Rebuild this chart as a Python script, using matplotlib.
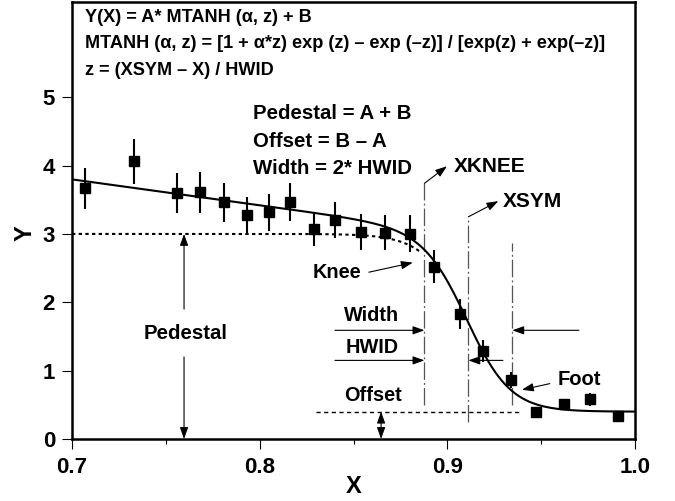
import numpy as np
from matplotlib import pyplot as plt

# Measured profile with error bars
x_data = [0.707, 0.733, 0.756, 0.768, 0.781, 0.793, 0.805, 0.816, 0.829, 0.840, 0.854,
          0.867, 0.880, 0.893, 0.907, 0.919, 0.934, 0.947, 0.962, 0.976, 0.991]
y_data = [3.67, 4.06, 3.60, 3.61, 3.46, 3.27, 3.32, 3.47, 3.07, 3.20, 3.03,
          3.02, 3.00, 2.52, 1.83, 1.29, 0.86, 0.39, 0.51, 0.58, 0.34]
y_err = [0.30, 0.33, 0.29, 0.30, 0.29, 0.27, 0.27, 0.28, 0.25, 0.26, 0.26,
         0.26, 0.27, 0.24, 0.22, 0.16, 0.12, 0.0, 0.0, 0.10, 0.0]

# mtanh fit parameters
A = 1.3
B = 1.7
ALPHA = 0.068
XSYM = 0.9112
HWID = 0.0234
XKNEE = XSYM - HWID
XOUT = XSYM + HWID

x_ticks = [0.7, 0.8, 0.9, 1.0]
x_tick_labels = ['0.7', '0.8', '0.9', '1.0']
y_ticks = [0, 1, 2, 3, 4, 5]

formula_lines = [
    'Y(X) = A* MTANH (\u03b1, z) + B',
    'MTANH (\u03b1, z) = [1 + \u03b1*z) exp (z) \u2013 exp (\u2013z)] / [exp(z) + exp(\u2013z)]',
    'z = (XSYM \u2013 X) / HWID',
]
definition_lines = ['Pedestal = A + B', 'Offset = B \u2013 A', 'Width = 2* HWID']


def mtanh(alpha, z):
    return ((1 + alpha * z) * np.exp(z) - np.exp(-z)) / (np.exp(z) + np.exp(-z))


plt.rcParams['font.family'] = ['Liberation Sans', 'DejaVu Sans']
plt.rcParams['font.weight'] = 'bold'
plt.rcParams['axes.labelweight'] = 'bold'

fig = plt.figure(figsize=(6.75, 5.01), dpi=100)
ax = fig.add_axes([72 / 675, 1 - 439 / 501, 563 / 675, 437.5 / 501])

# fitted curve and the pedestal (alpha = 0) curve
xs = np.linspace(0.7, 1.0, 500)
ax.plot(xs, A * mtanh(ALPHA, (XSYM - xs) / HWID) + B, c='k', lw=1.5, zorder=3)
xp = np.linspace(0.7, 0.885, 200)
ax.plot(xp, A * np.tanh((XSYM - xp) / HWID) + B, c='k', lw=1.5,
        ls=(0, (1.6, 1.6)), zorder=3)

ax.errorbar(x_data, y_data, yerr=y_err, fmt='s', ms=7.3, color='k',
            elinewidth=1.5, capsize=0, zorder=4)

# offset level
ax.plot([0.830, 0.938], [B - A, B - A], c='k', lw=1.0, ls=(0, (3, 2.5)))

# vertical markers at knee, symmetry point and outer edge
dashdot = (0, (14, 2.5, 1.5, 2.5))
ax.plot([XKNEE, XKNEE], [0.5, 3.74], c='#555555', lw=0.9, ls=dashdot)
ax.plot([XSYM, XSYM], [0.25, 3.25], c='#555555', lw=0.9, ls=dashdot)
ax.plot([XOUT, XOUT], [0.5, 2.87], c='#555555', lw=0.9, ls=dashdot)

arrow = dict(arrowstyle='-|>,head_length=0.7,head_width=0.25', lw=0.8, color='k',
             shrinkA=0, shrinkB=0)
both = dict(arrow, arrowstyle='<|-|>,head_length=0.7,head_width=0.25')

ax.annotate('', xy=(XKNEE + 0.012, 3.99), xytext=(XKNEE, 3.74), arrowprops=arrow)
ax.text(0.9035, 3.99, 'XKNEE', fontsize=15, ha='left', va='center')
ax.annotate('', xy=(XSYM + 0.016, 3.48), xytext=(XSYM, 3.25), arrowprops=arrow)
ax.text(0.9294, 3.48, 'XSYM', fontsize=15, ha='left', va='center')

# pedestal height
ax.annotate('', xy=(0.7597, A + B), xytext=(0.7597, 1.9), arrowprops=arrow)
ax.annotate('', xy=(0.7597, 0), xytext=(0.7597, 1.2), arrowprops=arrow)
ax.text(0.7605, 1.55, 'Pedestal', fontsize=14.7, ha='center', va='center')

# width and half width
ax.annotate('', xy=(XKNEE, 1.59), xytext=(0.8401, 1.59), arrowprops=arrow)
ax.annotate('', xy=(XOUT, 1.59), xytext=(0.9701, 1.59), arrowprops=arrow)
ax.text(0.8598, 1.81, 'Width', fontsize=14.3, ha='center', va='center')
ax.annotate('', xy=(XKNEE, 1.15), xytext=(0.8401, 1.15), arrowprops=arrow)
ax.annotate('', xy=(XSYM, 1.15), xytext=(0.9296, 1.15), arrowprops=arrow)
ax.text(0.8598, 1.34, 'HWID', fontsize=14.3, ha='center', va='center')

# offset
ax.annotate('', xy=(0.8647, 0), xytext=(0.8647, B - A), arrowprops=both)
ax.text(0.8603, 0.63, 'Offset', fontsize=14.3, ha='center', va='center')

ax.annotate('', xy=(0.8816, 2.58), xytext=(0.8582, 2.44), arrowprops=arrow)
ax.text(0.8411, 2.44, 'Knee', fontsize=14.3, ha='center', va='center')
ax.annotate('', xy=(0.9397, 0.72), xytext=(0.9546, 0.81), arrowprops=arrow)
ax.text(0.9589, 0.87, 'Foot', fontsize=14.5, ha='left', va='center')

for text, yy in zip(formula_lines, [6.17, 5.79, 5.39]):
    ax.text(0.7069, yy, text, fontsize=13.1, ha='left', va='center')
for text, yy in zip(definition_lines, [4.76, 4.35, 3.96]):
    ax.text(0.7963, yy, text, fontsize=14.7, ha='left', va='center')

ax.set_xlim(0.7, 1.0)
ax.set_ylim(0, 6.4)
ax.set_xticks(x_ticks)
ax.set_xticklabels(x_tick_labels)
ax.set_xticks([0.75, 0.85, 0.95], minor=True)
ax.set_yticks(y_ticks)
ax.tick_params(axis='both', which='major', direction='out', length=7.2, width=0.8,
               labelsize=16, pad=5)
ax.tick_params(axis='x', which='minor', direction='out', length=3.6, width=0.8)
ax.tick_params(axis='x', which='major', pad=6)
for side in ['left', 'right', 'top', 'bottom']:
    ax.spines[side].set_linewidth(1.8)

ax.set_xlabel('X', fontsize=17)
ax.set_ylabel('Y', fontsize=17)
ax.xaxis.set_label_coords(0.5, -0.083)
ax.yaxis.set_label_coords(-0.063, 0.471)

fig.savefig('out.png', dpi=100)
